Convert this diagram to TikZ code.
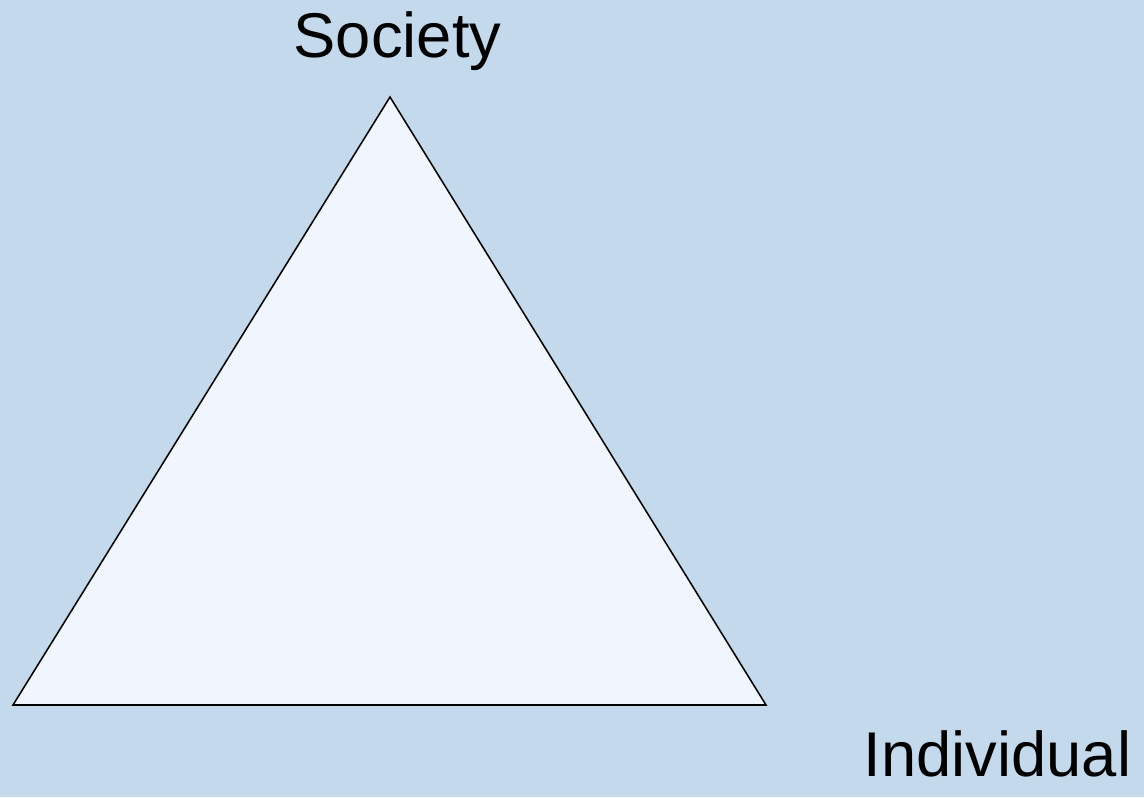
\documentclass[tikz,border=0pt]{standalone}
\usepackage{fontspec}
\setmainfont{Liberation Sans}
\usetikzlibrary{positioning}
\definecolor{bgblue}{HTML}{C5D9EC}
\definecolor{paleface}{HTML}{F1F5FD}
\tikzset{
  corner/.style={font=\fontsize{45}{52}\selectfont,inner sep=0pt,anchor=base},
  tri/.style={draw=black,fill=paleface,line width=1.1pt,line join=miter}
}

\begin{document}
\begin{tikzpicture}[x=0.025cm,y=-0.025cm]
  \fill[bgblue] (0,0) rectangle (1144,797);
  \useasboundingbox (0,0) rectangle (1144,797);
  \coordinate (top) at (390,97);
  \coordinate (bl) at (13,705);
  \coordinate (br) at (766,705);
  \draw[tri] (top) -- (br) -- (bl) -- cycle;
  \node[corner] (society) at (397.5,57) {Society};
  \node[corner] (individual) at (997.5,776) {Individual};
\end{tikzpicture}
\end{document}
